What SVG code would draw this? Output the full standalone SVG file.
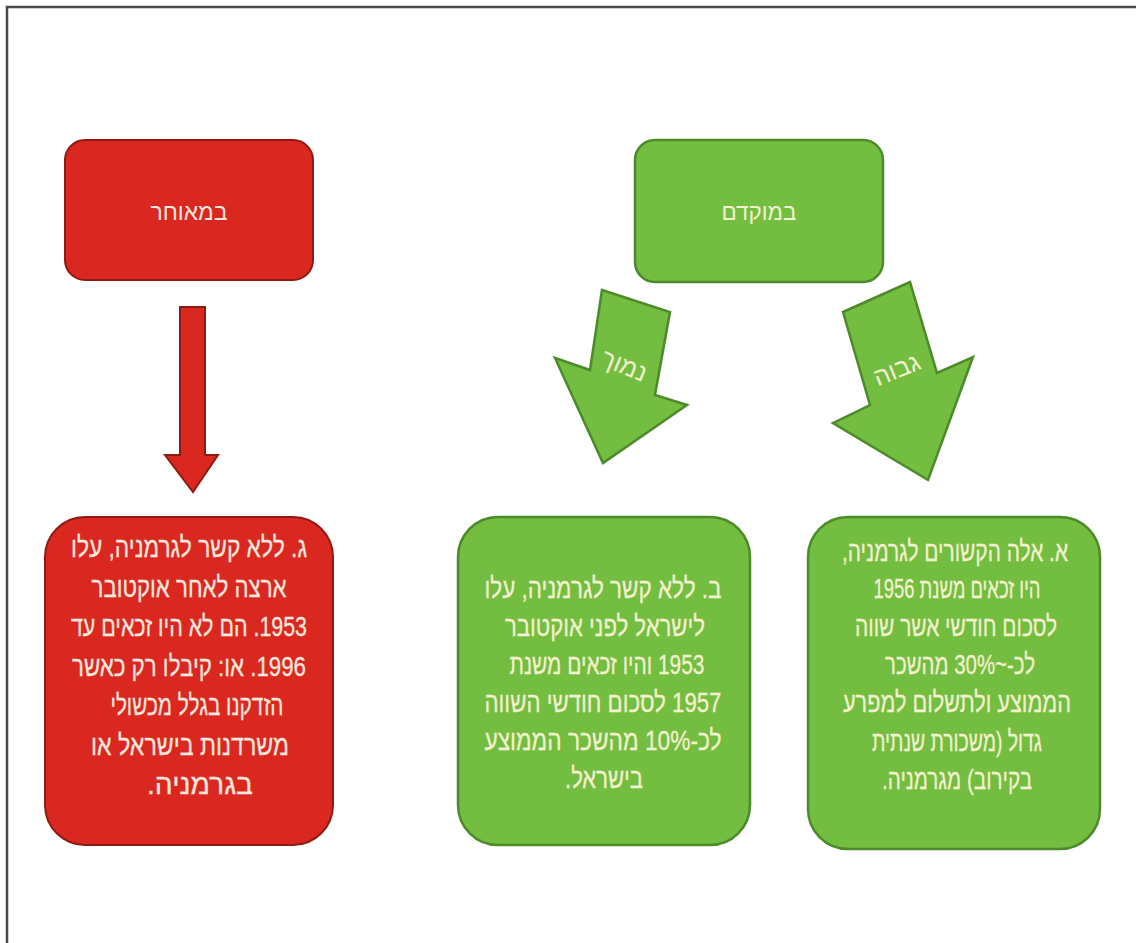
<svg xmlns="http://www.w3.org/2000/svg" width="1136" height="943" viewBox="0 0 1136 943">
<style>
.red{fill:#da2820;stroke:#8e1a12;stroke-width:2}
.green{fill:#73bd40;stroke:#4c8a2a;stroke-width:2.5}
text{font-family:"Liberation Sans","DejaVu Sans",sans-serif;direction:rtl;text-anchor:middle}
.tr{fill:#f6e7df;stroke:#f6e7df;stroke-width:0.3;font-size:28px}
.tg{fill:#f3f1cf;stroke:#f3f1cf;stroke-width:0.3;font-size:28px}
.hr{fill:#f6e7df;font-size:23px}
.hg{fill:#f3f1cf;font-size:23px}
.ha{fill:#f3f1cf;font-size:25px}
</style>
<rect width="1136" height="943" fill="#ffffff"/>
<path d="M7,943 V7 H1136" fill="none" stroke="#4a4a4a" stroke-width="2.5"/>
<g id="connectors">
<polygon class="red" points="180,307 205,307 205,455 218,455 193,492 165,455 180,455"/>
<polygon class="green" points="602,290 670,312 655,395 687,405 603,463 555,358 590,370"/>
<polygon class="green" points="843,312 910,282 937,373 973,357 928,480 833,423 870,405"/>
<text class="ha" transform="translate(624,366) rotate(22)" y="8">נמוך</text>
<text class="ha" transform="translate(897,370) rotate(-22)" y="8">גבוה</text>
</g>
<g id="node-later">
<rect class="red" x="65" y="140" width="248" height="140" rx="20"/>
<text class="hr" x="189" y="220" textLength="77" lengthAdjust="spacingAndGlyphs">במאוחר</text>
</g>
<g id="node-early">
<rect class="green" x="635" y="140" width="248" height="142" rx="20"/>
<text class="hg" x="759" y="220" textLength="75" lengthAdjust="spacingAndGlyphs">במוקדם</text>
</g>
<g id="node-c">
<rect class="red" x="45" y="517" width="288" height="328" rx="40"/>
<text class="tr" x="189" y="557" textLength="236" lengthAdjust="spacingAndGlyphs">ג. ללא קשר לגרמניה, עלו</text>
<text class="tr" x="189" y="596.5" textLength="195" lengthAdjust="spacingAndGlyphs">ארצה לאחר אוקטובר</text>
<text class="tr" x="189" y="636" textLength="236" lengthAdjust="spacingAndGlyphs">1953. הם לא היו זכאים עד</text>
<text class="tr" x="189" y="675.5" textLength="234" lengthAdjust="spacingAndGlyphs">1996. או: קיבלו רק כאשר</text>
<text class="tr" x="197" y="715" textLength="173" lengthAdjust="spacingAndGlyphs">הזדקנו בגלל מכשולי</text>
<text class="tr" x="190" y="754.5" textLength="198" lengthAdjust="spacingAndGlyphs">משרדנות בישראל או</text>
<text class="tr" x="200" y="794" textLength="106" lengthAdjust="spacingAndGlyphs">בגרמניה.</text>
</g>
<g id="node-b">
<rect class="green" x="458" y="517" width="292" height="328" rx="40"/>
<text class="tg" x="603" y="598" textLength="237" lengthAdjust="spacingAndGlyphs">ב. ללא קשר לגרמניה, עלו</text>
<text class="tg" x="605" y="636" textLength="200" lengthAdjust="spacingAndGlyphs">לישראל לפני אוקטובר</text>
<text class="tg" x="607" y="674" textLength="195" lengthAdjust="spacingAndGlyphs">1953 והיו זכאים משנת</text>
<text class="tg" x="603" y="712" textLength="237" lengthAdjust="spacingAndGlyphs">1957 לסכום חודשי השווה</text>
<text class="tg" x="603" y="750" textLength="237" lengthAdjust="spacingAndGlyphs">לכ-10% מהשכר הממוצע</text>
<text class="tg" x="604" y="788" textLength="78" lengthAdjust="spacingAndGlyphs">בישראל.</text>
</g>
<g id="node-a">
<rect class="green" x="808" y="517" width="292" height="332" rx="40"/>
<text class="tg" x="955" y="561" textLength="226" lengthAdjust="spacingAndGlyphs">א. אלה הקשורים לגרמניה,</text>
<text class="tg" x="957" y="598" textLength="167" lengthAdjust="spacingAndGlyphs">היו זכאים משנת 1956</text>
<text class="tg" x="956" y="636" textLength="202" lengthAdjust="spacingAndGlyphs">לסכום חודשי אשר שווה</text>
<text class="tg" x="960" y="674" textLength="150" lengthAdjust="spacingAndGlyphs">לכ-~30% מהשכר</text>
<text class="tg" x="957" y="712" textLength="228" lengthAdjust="spacingAndGlyphs">הממוצע ולתשלום למפרע</text>
<text class="tg" x="957" y="750.5" textLength="170" lengthAdjust="spacingAndGlyphs">גדול (משכורת שנתית</text>
<text class="tg" x="957" y="789" textLength="150" lengthAdjust="spacingAndGlyphs">בקירוב) מגרמניה.</text>
</g>
</svg>
